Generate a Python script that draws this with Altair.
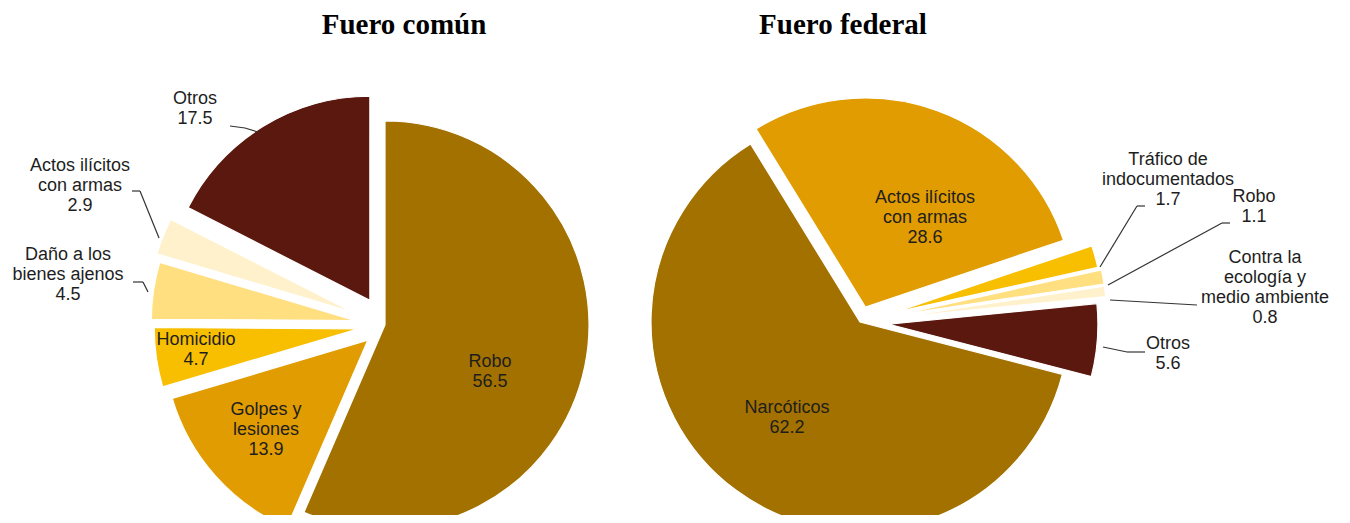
import math
import altair as alt
import pandas as pd

# ---------------- data ----------------
comun_cats = ["Robo", "Golpes y lesiones", "Homicidio", "Daño a los bienes ajenos",
              "Actos ilícitos con armas", "Otros"]
comun_vals = [56.5, 13.9, 4.7, 4.5, 2.9, 17.5]
comun_label_lines = [["Robo"], ["Golpes y", "lesiones"], ["Homicidio"],
                     ["Daño a los", "bienes ajenos"], ["Actos ilícitos", "con armas"], ["Otros"]]

federal_cats = ["Narcóticos", "Actos ilícitos con armas", "Tráfico de indocumentados",
                "Robo", "Contra la ecología y medio ambiente", "Otros"]
federal_vals = [62.2, 28.6, 1.7, 1.1, 0.8, 5.6]
federal_label_lines = [["Narcóticos"], ["Actos ilícitos", "con armas"],
                       ["Tráfico de", "indocumentados"], ["Robo"],
                       ["Contra la", "ecología y", "medio ambiente"], ["Otros"]]

titles = ["Fuero común", "Fuero federal"]

# ---------------- styles ----------------
comun_colors = ["#A27100", "#E09C00", "#F8BF00", "#FFDF80", "#FFF1CC", "#5B180E"]
federal_colors = ["#A27100", "#E09C00", "#F8BF00", "#FFDF80", "#FFF1CC", "#5B180E"]
comun_explode = [0, 23, 27, 30, 35, 29]
federal_explode = [0, 16, 35, 38, 38, 29]
comun_start_deg = 0.0
federal_start_deg = 104.5
R_L, R_R = 204, 209

# first-line centres of label blocks relative to pie centre (px, y down)
comun_label_pos = [(105, 37), (-119, 85), (-189, 15), (-317, -70), (-305, -159), (-190, -226)]
federal_label_pos = [(-73, 86), (65, -124), (308, -162), (394, -125), (405, -64), (308, 22)]
# leader lines: text end -> elbow -> slice
comun_leaders = [
    [(-155, -199), (-140, -197), (-127, -193)],
    [(-253, -134), (-245, -134), (-226, -87)],
    [(-252, -43), (-242, -43), (-237, -33)],
]
federal_leaders = [
    [(285, -116), (277, -116), (240, -55)],
    [(370, -99), (362, -99), (248, -37)],
    [(337, -17), (337, -17), (250, -22)],
    [(285, 30), (267, 30), (243, 25)],
]
# title baselines relative to pie centre
title_pos = [(19, -291), (-17, -288)]

# panel geometry: domains put the pie centre where the reference has it
panels = [
    dict(width=632, height=507, xdom=[-377, 255], ydom=[-317, 190]),
    dict(width=702, height=507, xdom=[-220, 482], ydom=[-314, 193]),
]


def make_panel(cats, vals, lines, colors, explode, start_deg, R, label_pos, leaders,
               title, tpos, geo):
    xs = alt.Scale(domain=geo["xdom"], nice=False, zero=False)
    ys = alt.Scale(domain=geo["ydom"], reverse=True, nice=False, zero=False)
    a0 = math.radians(start_deg)

    df = pd.DataFrame({"idx": list(range(len(cats))), "cat": cats, "val": vals,
                       "col": colors, "ex": explode})
    arcs = alt.Chart(df).transform_window(
        cum="sum(val)", sort=[alt.SortField("idx")]
    ).transform_calculate(
        start="datum.cum - datum.val",
        mid=f"{a0} + (datum.cum - datum.val/2) / 100 * 2 * PI",
    ).transform_calculate(
        dx="datum.ex * sin(datum.mid)",
        dy="-datum.ex * cos(datum.mid)",
    ).mark_arc(outerRadius=R, stroke="white", strokeWidth=1.2, clip=True).encode(
        x=alt.X("dx:Q", scale=xs, axis=None),
        y=alt.Y("dy:Q", scale=ys, axis=None),
        theta=alt.Theta("start:Q", stack=False,
                        scale=alt.Scale(domain=[0, 100], range=[a0, a0 + 2 * math.pi])),
        theta2=alt.Theta2("cum:Q"),
        color=alt.Color("col:N", scale=None),
        order=alt.Order("idx:Q"),
    )

    texts = ["\n".join(l + [f"{v:.1f}"]) for l, v in zip(lines, vals)]
    ldf = pd.DataFrame({"t": texts, "lx": [p[0] for p in label_pos],
                        "ly": [p[1] for p in label_pos]})
    labels = alt.Chart(ldf).mark_text(
        lineBreak="\n", align="center", baseline="middle", fontSize=18,
        font="Liberation Sans", color="#1e1e1e", lineHeight=20,
    ).encode(x=alt.X("lx:Q", scale=xs, axis=None), y=alt.Y("ly:Q", scale=ys, axis=None),
             text="t:N")

    segs = []
    for pts in leaders:
        for a, b in zip(pts[:-1], pts[1:]):
            segs.append({"x1": a[0], "y1": a[1], "x2": b[0], "y2": b[1]})
    sdf = pd.DataFrame(segs)
    rules = alt.Chart(sdf).mark_rule(color="#333333", strokeWidth=1.2).encode(
        x=alt.X("x1:Q", scale=xs, axis=None), y=alt.Y("y1:Q", scale=ys, axis=None),
        x2="x2:Q", y2="y2:Q")

    tdf = pd.DataFrame({"t": [title], "tx": [tpos[0]], "ty": [tpos[1]]})
    ttl = alt.Chart(tdf).mark_text(
        font="Liberation Serif", fontSize=29, fontWeight="bold", color="#000000",
        align="center", baseline="alphabetic",
    ).encode(x=alt.X("tx:Q", scale=xs, axis=None), y=alt.Y("ty:Q", scale=ys, axis=None),
             text="t:N")

    return alt.layer(arcs, rules, labels, ttl).properties(
        width=geo["width"], height=geo["height"])


left = make_panel(comun_cats, comun_vals, comun_label_lines, comun_colors, comun_explode,
                  comun_start_deg, R_L, comun_label_pos, comun_leaders, titles[0],
                  title_pos[0], panels[0])
right = make_panel(federal_cats, federal_vals, federal_label_lines, federal_colors,
                   federal_explode, federal_start_deg, R_R, federal_label_pos,
                   federal_leaders, titles[1], title_pos[1], panels[1])

chart = alt.hconcat(left, right, spacing=0).resolve_scale(
    x="independent", y="independent", theta="independent"
).properties(padding=0).configure_view(stroke=None)

chart.save("out.html", embed_options={"renderer": "svg", "actions": False})
